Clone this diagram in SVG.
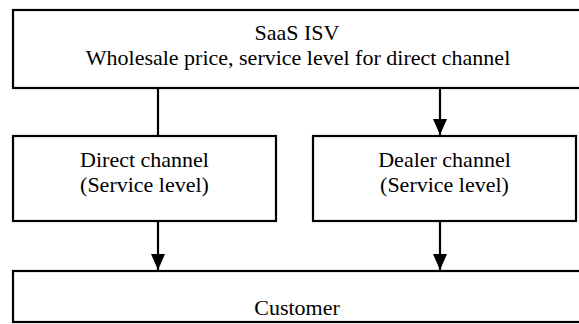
<svg xmlns="http://www.w3.org/2000/svg" width="579" height="324" viewBox="0 0 579 324">
  <style>
    .box { fill: #ffffff; stroke: #000000; stroke-width: 2.2; }
    .lbl { font-family: "Liberation Serif", "Times New Roman", serif; font-size: 22px; fill: #000000; text-anchor: middle; }
    .conn { stroke: #000000; stroke-width: 2.2; fill: none; }
  </style>
  <defs>
    <marker id="arrow" markerUnits="userSpaceOnUse" markerWidth="16" markerHeight="14" refX="16" refY="7" orient="auto" viewBox="0 0 16 14">
      <path d="M0,0 L16,7 L0,14 Z" fill="#000000"/>
    </marker>
  </defs>
  <rect width="579" height="324" fill="#ffffff"/>

  <g id="connectors">
    <line class="conn" x1="158" y1="88" x2="158" y2="136"/>
    <line class="conn" x1="440" y1="88" x2="440" y2="135" marker-end="url(#arrow)"/>
    <line class="conn" x1="158" y1="221" x2="158" y2="270" marker-end="url(#arrow)"/>
    <line class="conn" x1="440" y1="221" x2="440" y2="270" marker-end="url(#arrow)"/>
  </g>

  <g id="isv">
    <rect class="box" x="13" y="10" width="568" height="78"/>
    <text class="lbl" x="297" y="40">SaaS ISV</text>
    <text class="lbl" x="298" y="65">Wholesale price, service level for direct channel</text>
  </g>

  <g id="direct">
    <rect class="box" x="13" y="136" width="263" height="85"/>
    <text class="lbl" x="144.5" y="167">Direct channel</text>
    <text class="lbl" x="144.5" y="192">(Service level)</text>
  </g>

  <g id="dealer">
    <rect class="box" x="313" y="136" width="263" height="85"/>
    <text class="lbl" x="444.5" y="167">Dealer channel</text>
    <text class="lbl" x="444.5" y="192">(Service level)</text>
  </g>

  <g id="customer">
    <rect class="box" x="13" y="271" width="568" height="51"/>
    <text class="lbl" x="297" y="315">Customer</text>
  </g>
</svg>
